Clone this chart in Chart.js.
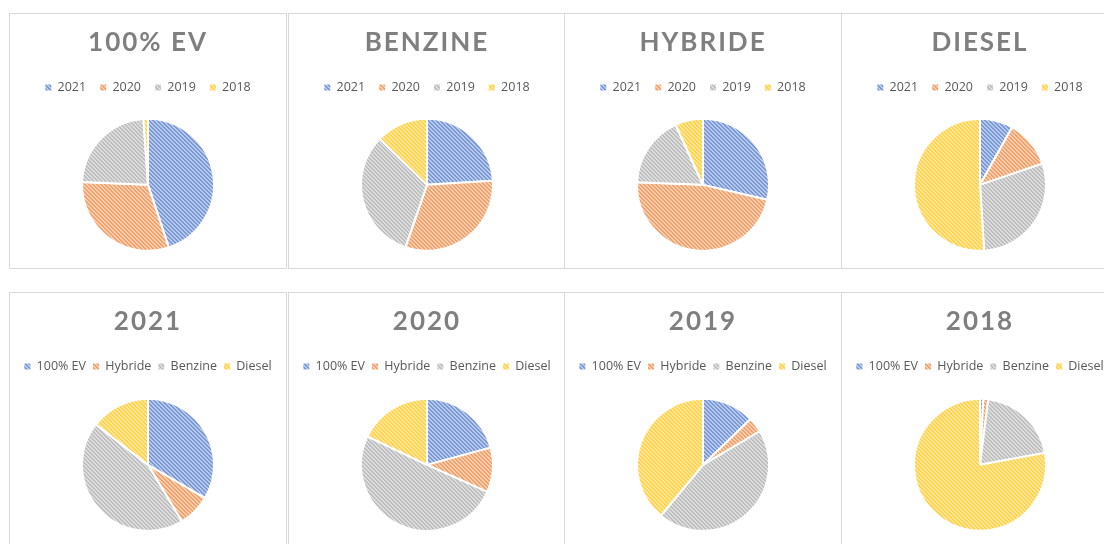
<!DOCTYPE html>
<html>
<head>
<meta charset="utf-8">
<script src="https://cdn.jsdelivr.net/npm/chart.js@4.4.1/dist/chart.umd.min.js"></script>
<style>
  html,body{margin:0;padding:0;background:#fff;width:1104px;height:544px;overflow:hidden;position:relative;}
  .panel{position:absolute;width:278px;height:256px;border:1px solid #d9d9d9;box-sizing:border-box;background:#fff;}
  .panel canvas{position:absolute;left:0;top:0;}
</style>
</head>
<body>
<script>
'use strict';

// --- Data ---
const years = ['2021', '2020', '2019', '2018'];
const fuels = ['100% EV', 'Hybride', 'Benzine', 'Diesel'];

// share per fuel type, by year (2021, 2020, 2019, 2018)
const ev      = [44.9, 30.8, 23.2, 1.1];
const benzine = [24.0, 31.3, 32.0, 12.7];
const hybride = [28.6, 47.0, 17.6, 6.8];
const diesel  = [8.1, 11.7, 29.2, 51.0];

// share per year, by fuel type (100% EV, Hybride, Benzine, Diesel)
const y2021 = [33.4, 8.0, 44.1, 14.5];
const y2020 = [20.8, 10.9, 50.4, 17.9];
const y2019 = [12.8, 3.7, 44.5, 39.0];
const y2018 = [0.8, 1.2, 20.1, 77.9];

const baseColors = ['#4472c4', '#ed7d31', '#a5a5a5', '#ffc000'];

// --- Hatch patterns ---
function mix(hex, a){
  const n = parseInt(hex.slice(1), 16);
  const r = n >> 16, g = (n >> 8) & 255, b = n & 255;
  const f = c => Math.round(c * a + 255 * (1 - a));
  return `rgb(${f(r)},${f(g)},${f(b)})`;
}
function hatch(hex){
  const c = document.createElement('canvas');
  c.width = 4; c.height = 4;
  const x = c.getContext('2d');
  for(let i = 0; i < 4; i++){
    for(let j = 0; j < 4; j++){
      const k = ((i - j) % 4 + 4) % 4;
      x.fillStyle = k < 2 ? mix(hex, 0.72) : mix(hex, 0.38);
      x.fillRect(i, j, 1, 1);
    }
  }
  return x.createPattern(c, 'repeat');
}
const patterns = baseColors.map(hatch);

// spaced title: wrap the title block draw
const spacedTitle = {
  id: 'spacedTitle',
  beforeDraw(chart){
    const t = chart.titleBlock;
    if(t && !t._spaced){
      const orig = t.draw.bind(t);
      t.draw = function(){
        chart.ctx.save();
        chart.ctx.letterSpacing = '2px';
        orig();
        chart.ctx.restore();
      };
      t._spaced = true;
    }
  }
};

const defaultLabels = Chart.overrides.pie.plugins.legend.labels.generateLabels;

// row settings: legend item padding, gap under title, bottom padding
const topRow    = { legendPad: 14, titleGap: 9,  bottomPad: 2 };
const bottomRow = { legendPad: 7,  titleGap: 16, bottomPad: 0 };

function makePie(left, top, title, labels, values, row){
  const div = document.createElement('div');
  div.className = 'panel';
  div.style.left = left + 'px';
  div.style.top = top + 'px';
  const cv = document.createElement('canvas');
  cv.width = 276; cv.height = 254;
  div.appendChild(cv);
  document.body.appendChild(div);

  new Chart(cv, {
    type: 'pie',
    data: {
      labels,
      datasets: [{
        data: values,
        backgroundColor: patterns,
        borderColor: '#ffffff',
        borderWidth: 2,
        hoverOffset: 0,
        radius: 66
      }]
    },
    options: {
      responsive: false,
      animation: false,
      layout: { padding: { top: 0, bottom: row.bottomPad, left: 0, right: 0 } },
      plugins: {
        title: {
          display: true,
          text: title,
          color: '#7f7f7f',
          font: { family: 'Lato', size: 26, weight: 'bold', lineHeight: 1.2 },
          padding: { top: 13, bottom: row.titleGap }
        },
        legend: {
          position: 'top',
          labels: {
            color: '#595959',
            font: { family: '"Open Sans"', size: 12.5 },
            boxWidth: 6,
            boxHeight: 6,
            padding: row.legendPad,
            generateLabels(chart){
              return defaultLabels(chart).map(l => Object.assign(l, { lineWidth: 0 }));
            }
          }
        },
        tooltip: { enabled: false }
      }
    },
    plugins: [spacedTitle]
  });
}

const lefts = [9, 288, 564, 841];

makePie(lefts[0], 13, '100% EV', years, ev, topRow);
makePie(lefts[1], 13, 'BENZINE', years, benzine, topRow);
makePie(lefts[2], 13, 'HYBRIDE', years, hybride, topRow);
makePie(lefts[3], 13, 'DIESEL', years, diesel, topRow);

makePie(lefts[0], 292, '2021', fuels, y2021, bottomRow);
makePie(lefts[1], 292, '2020', fuels, y2020, bottomRow);
makePie(lefts[2], 292, '2019', fuels, y2019, bottomRow);
makePie(lefts[3], 292, '2018', fuels, y2018, bottomRow);
</script>
</body>
</html>
